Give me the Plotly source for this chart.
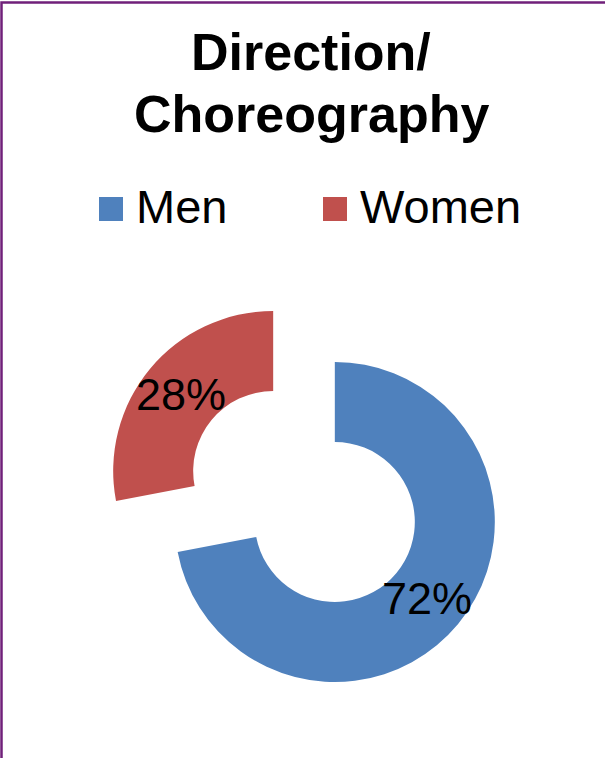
import math
import plotly.graph_objects as go

# data
labels = ['Men', 'Women']
values = [72, 28]
colors = ['#4F81BD', '#C0504D']
title_lines = ['Direction/', 'Choreography']

W, H = 605, 758
FONT = 'Liberation Sans, Arial, sans-serif'
HOLE = 0.5
PULL = 0.25
# pie box in pixels (left, top, size)
BOX_X, BOX_Y, BOX = 104, 296.5, 400


def px(x):
    return x / W


def py(y):
    return 1 - y / H


fig = go.Figure(go.Pie(
    labels=labels,
    values=values,
    hole=HOLE,
    sort=False,
    direction='clockwise',
    rotation=0,
    pull=[PULL] * len(values),
    marker=dict(colors=colors, line=dict(width=0)),
    textinfo='none',
    domain=dict(x=[px(BOX_X), px(BOX_X + BOX)], y=[py(BOX_Y + BOX), py(BOX_Y)]),
    showlegend=False,
))

annotations = []
shapes = []

# percentage labels, big like the original (plotly would shrink inside text)
cx, cy = BOX_X + BOX / 2, BOX_Y + BOX / 2
R = BOX / 2 / (1 + PULL)
total = sum(values)
cum = 0
for v in values:
    mid = 2 * math.pi * (cum + v / 2) / total
    cum += v
    dist = PULL * R + R * (1 + HOLE) / 2
    lx = cx + dist * math.sin(mid)
    ly = cy - dist * math.cos(mid)
    annotations.append(dict(text='%d%%' % round(100 * v / total), x=px(lx), y=py(ly),
                            xref='paper', yref='paper', xanchor='center', yanchor='middle',
                            showarrow=False, font=dict(size=45, color='black', family=FONT)))

# title, two lines
for txt, yc in zip(title_lines, [52, 113.5]):
    annotations.append(dict(text='<b>%s</b>' % txt, x=px(311), y=py(yc), xref='paper', yref='paper',
                            xanchor='center', yanchor='middle', showarrow=False,
                            font=dict(size=52, color='black', family=FONT)))

# legend (squares + labels)
legend_x = [99, 323]
for lab, col, lx in zip(labels, colors, legend_x):
    shapes.append(dict(type='rect', xref='paper', yref='paper', x0=px(lx), x1=px(lx + 24),
                       y0=py(221), y1=py(197), fillcolor=col, line=dict(width=0)))
    annotations.append(dict(text=lab, x=px(lx + 35), y=py(206.5), xref='paper', yref='paper',
                            xanchor='left', yanchor='middle', showarrow=False,
                            font=dict(size=47, color='black', family=FONT)))

# purple chart border (right/bottom edges fall outside the crop)
shapes.append(dict(type='rect', xref='paper', yref='paper', x0=px(1.5), x1=px(620),
                   y0=py(780), y1=py(2.5), line=dict(color='#70207A', width=2.5),
                   fillcolor='rgba(0,0,0,0)'))

fig.update_layout(
    width=W, height=H,
    margin=dict(l=0, r=0, t=0, b=0),
    paper_bgcolor='white',
    plot_bgcolor='white',
    annotations=annotations,
    shapes=shapes,
)

fig.write_html("out.html", config={'displayModeBar': False},
               post_script="document.body.style.margin='0';")
